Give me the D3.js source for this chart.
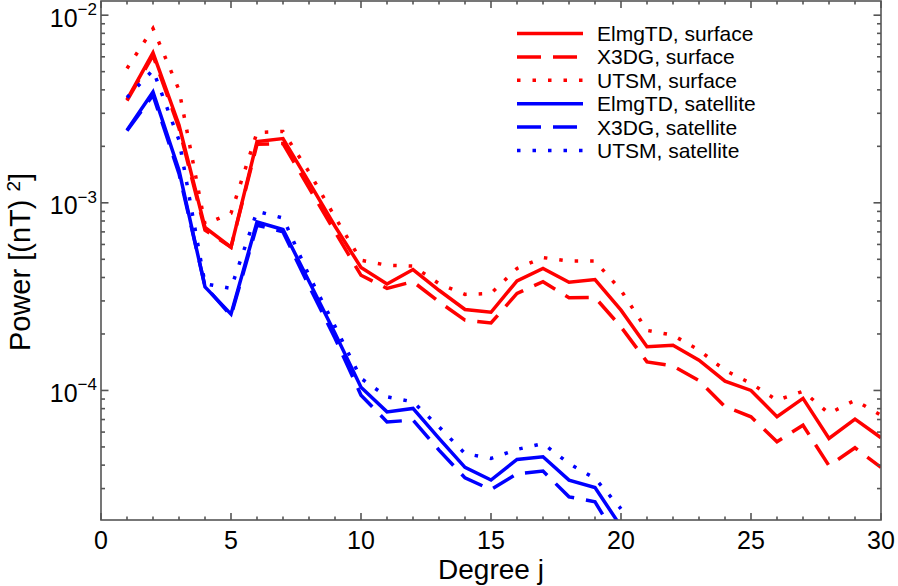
<!DOCTYPE html>
<html>
<head>
<meta charset="utf-8">
<script src="https://cdn.jsdelivr.net/npm/d3@7"></script>
<style>
  html, body { margin: 0; padding: 0; background: #fff; }
  svg { display: block; }
  text { font-family: "Liberation Sans", Arial, Helvetica, sans-serif; fill: #000; }
</style>
</head>
<body>
<svg id="chart" width="898" height="586"></svg>
<script>
// ---------------- data ----------------
const degreesSurface = d3.range(1, 31);   // j = 1..30
const degreesSatellite = d3.range(1, 21); // j = 1..20

const elmgtdSurface = [3.55e-3, 6.3e-3, 2.6e-3, 7.4e-4, 5.8e-4, 2.12e-3, 2.2e-3, 1.29e-3, 7.5e-4, 4.52e-4,
  3.69e-4, 4.41e-4, 3.42e-4, 2.7e-4, 2.61e-4, 3.84e-4, 4.47e-4, 3.77e-4, 3.9e-4, 2.68e-4,
  1.71e-4, 1.74e-4, 1.45e-4, 1.12e-4, 1.0e-4, 7.25e-5, 9.07e-5, 5.55e-5, 7.03e-5, 5.6e-5];
const x3dgSurface = [3.5e-3, 6.1e-3, 2.5e-3, 7.15e-4, 5.8e-4, 2.05e-3, 2.07e-3, 1.2e-3, 7.0e-4, 4.11e-4,
  3.5e-4, 3.8e-4, 2.97e-4, 2.37e-4, 2.29e-4, 3.29e-4, 3.8e-4, 3.12e-4, 3.13e-4, 2.18e-4,
  1.42e-4, 1.35e-4, 1.13e-4, 8.2e-5, 7.24e-5, 5.33e-5, 6.53e-5, 3.97e-5, 4.95e-5, 3.89e-5];
const utsmSurface = [5.2e-3, 8.5e-3, 4.0e-3, 7.7e-4, 8.8e-4, 2.37e-3, 2.4e-3, 1.46e-3, 8.4e-4, 4.94e-4,
  4.65e-4, 4.6e-4, 3.71e-4, 3.25e-4, 3.29e-4, 4.47e-4, 5.11e-4, 4.89e-4, 4.89e-4, 3.42e-4,
  2.09e-4, 1.97e-4, 1.64e-4, 1.28e-4, 1.09e-4, 8.87e-5, 9.9e-5, 7.54e-5, 8.87e-5, 7.38e-5];
const elmgtdSatellite = [2.44e-3, 3.9e-3, 1.49e-3, 3.56e-4, 2.55e-4, 7.9e-4, 7.2e-4, 3.82e-4, 2.02e-4, 1.04e-4,
  7.69e-5, 8.02e-5, 5.55e-5, 3.89e-5, 3.33e-5, 4.29e-5, 4.43e-5, 3.33e-5, 3.04e-5, 1.88e-5];
const x3dgSatellite = [2.42e-3, 3.75e-3, 1.43e-3, 3.6e-4, 2.5e-4, 7.6e-4, 7.0e-4, 3.6e-4, 1.9e-4, 9.44e-5,
  6.8e-5, 6.95e-5, 4.81e-5, 3.42e-5, 2.96e-5, 3.6e-5, 3.72e-5, 2.71e-5, 2.55e-5, 1.5e-5];
const utsmSatellite = [3.64e-3, 5.1e-3, 2.16e-3, 3.7e-4, 3.5e-4, 9.0e-4, 8.3e-4, 4.1e-4, 2.2e-4, 1.16e-4,
  9.25e-5, 8.7e-5, 6.4e-5, 4.61e-5, 4.34e-5, 4.85e-5, 5.21e-5, 4.08e-5, 3.4e-5, 2.34e-5];

const seriesNames = ["ElmgTD, surface", "X3DG, surface", "UTSM, surface",
                     "ElmgTD, satellite", "X3DG, satellite", "UTSM, satellite"];
const xTickValues = [0, 5, 10, 15, 20, 25, 30];
const yTickExponents = [-4, -3, -2];

// ---------------- layout ----------------
const plotL = 101, plotR = 881, plotT = 1, plotB = 520;
const svg = d3.select("#chart");

const x = d3.scaleLinear().domain([0, 30]).range([plotL, plotR]);
const y = d3.scaleLog().domain([2.04e-5, 1.19e-2]).range([plotB, plotT]);

const RED = "#ff0000", BLUE = "#0000ff";
const DASH = "24,12", DOT = "3.5,12";

const series = [
  { name: seriesNames[0], j: degreesSurface,   v: elmgtdSurface,   color: RED,  dash: null },
  { name: seriesNames[1], j: degreesSurface,   v: x3dgSurface,     color: RED,  dash: DASH },
  { name: seriesNames[2], j: degreesSurface,   v: utsmSurface,     color: RED,  dash: DOT },
  { name: seriesNames[3], j: degreesSatellite, v: elmgtdSatellite, color: BLUE, dash: null },
  { name: seriesNames[4], j: degreesSatellite, v: x3dgSatellite,   color: BLUE, dash: DASH },
  { name: seriesNames[5], j: degreesSatellite, v: utsmSatellite,   color: BLUE, dash: DOT }
];

svg.append("defs").append("clipPath").attr("id", "plotclip")
  .append("rect").attr("x", plotL).attr("y", plotT).attr("width", plotR - plotL).attr("height", plotB - plotT);

// ---------------- lines ----------------
const line = d3.line().x(d => x(d[0])).y(d => y(d[1]));
const gLines = svg.append("g").attr("clip-path", "url(#plotclip)");
series.forEach(s => {
  gLines.append("path")
    .datum(s.j.map((j, i) => [j, s.v[i]]))
    .attr("d", line)
    .attr("fill", "none")
    .attr("stroke", s.color)
    .attr("stroke-width", 3.5)
    .attr("stroke-linejoin", "miter")
    .attr("stroke-dasharray", s.dash);
});

// ---------------- frame & ticks ----------------
const axisColor = "#555";
const gAxes = svg.append("g").attr("stroke", axisColor).attr("stroke-width", 1.6);
gAxes.append("rect").attr("x", plotL).attr("y", plotT).attr("width", plotR - plotL).attr("height", plotB - plotT)
  .attr("fill", "none");

// x ticks (bottom and top, inward)
d3.range(0, 31).forEach(j => {
  const major = j % 5 === 0;
  const len = major ? 7 : 3.5;
  gAxes.append("line").attr("x1", x(j)).attr("x2", x(j)).attr("y1", plotB).attr("y2", plotB - len);
  gAxes.append("line").attr("x1", x(j)).attr("x2", x(j)).attr("y1", plotT).attr("y2", plotT + len);
});
// y ticks (left and right, inward)
const yTicks = [];
for (let e = -5; e <= -2; e++) {
  for (let k = 1; k <= 9; k++) {
    const v = k * Math.pow(10, e);
    if (v >= y.domain()[0] && v <= y.domain()[1]) yTicks.push({ v, major: k === 1 });
  }
}
yTicks.forEach(t => {
  const len = t.major ? 7.5 : 4;
  const yy = y(t.v);
  gAxes.append("line").attr("x1", plotL).attr("x2", plotL + len).attr("y1", yy).attr("y2", yy);
  gAxes.append("line").attr("x1", plotR).attr("x2", plotR - len).attr("y1", yy).attr("y2", yy);
});

// x tick labels
svg.append("g").selectAll("text").data(xTickValues).join("text")
  .attr("x", d => x(d)).attr("y", 549)
  .attr("text-anchor", "middle").attr("font-size", 25)
  .text(d => d);

// y tick labels 10^n
yTickExponents.forEach(e => {
  const yy = y(Math.pow(10, e));
  const t = svg.append("text").attr("x", 97).attr("y", yy + 11.5)
    .attr("text-anchor", "end").attr("font-size", 25);
  t.append("tspan").text("10");
  t.append("tspan").attr("dy", -11.5).attr("font-size", 17).text("\u2212" + Math.abs(e));
});

// axis titles
svg.append("text").attr("x", (plotL + plotR) / 2).attr("y", 579)
  .attr("text-anchor", "middle").attr("font-size", 28).text("Degree j");

const yl = svg.append("text")
  .attr("transform", "translate(30,262) rotate(-90)")
  .attr("text-anchor", "middle").attr("font-size", 29);
yl.append("tspan").text("Power [(nT) ");
yl.append("tspan").attr("dy", -10).attr("font-size", 19).text("2");
yl.append("tspan").attr("dy", 10).text("]");

// ---------------- legend ----------------
const legX1 = 517, legX2 = 583, legTextX = 597, legY0 = 33.5, legDy = 23.4;
const gLeg = svg.append("g");
series.forEach((s, i) => {
  const yy = legY0 + i * legDy;
  gLeg.append("line").attr("x1", legX1).attr("x2", legX2).attr("y1", yy).attr("y2", yy)
    .attr("stroke", s.color).attr("stroke-width", 3.5).attr("stroke-dasharray", s.dash);
  gLeg.append("text").attr("x", legTextX).attr("y", yy + 7.5).attr("font-size", 21).text(s.name);
});
</script>
</body>
</html>
